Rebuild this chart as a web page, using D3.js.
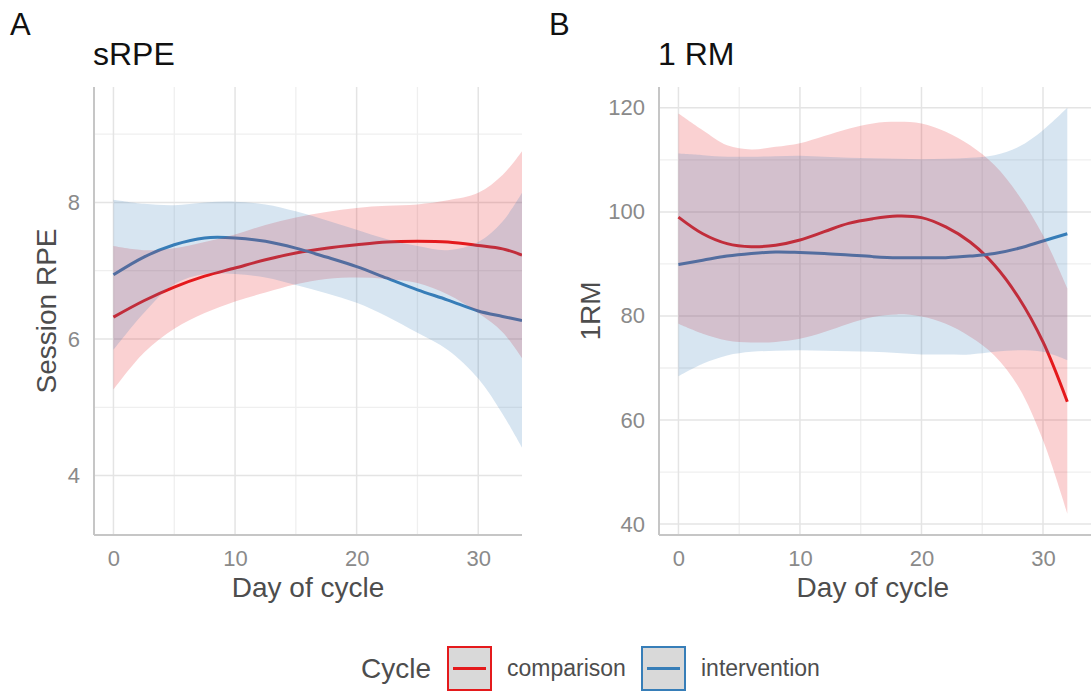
<!DOCTYPE html>
<html>
<head>
<meta charset="utf-8">
<script src="https://cdn.jsdelivr.net/npm/d3@7"></script>
<style>
  body { margin: 0; background: #fff; }
  svg text { font-family: "Liberation Sans", Arial, Helvetica, sans-serif; }
</style>
</head>
<body>
<svg id="fig" width="1091" height="696"></svg>
<script>
// ---- data ----
var groups = ["comparison", "intervention"]
var colors = ["#e41a1c", "#377eb8"]

// panel A: sRPE
var daysA = [0, 2.5, 5, 7.5, 10, 12.5, 15, 17.5, 20, 22.5, 25, 27.5, 30, 32, 33.6]
var compA = [6.32, 6.56, 6.76, 6.92, 7.04, 7.16, 7.26, 7.33, 7.38, 7.42, 7.43, 7.42, 7.37, 7.32, 7.23]
var compA_hi = [7.36, 7.30, 7.33, 7.42, 7.53, 7.67, 7.78, 7.86, 7.92, 7.95, 7.97, 8.03, 8.14, 8.40, 8.75]
var compA_lo = [5.26, 5.80, 6.15, 6.38, 6.55, 6.68, 6.80, 6.88, 6.90, 6.88, 6.82, 6.65, 6.38, 6.10, 5.72]
var intA = [6.94, 7.20, 7.38, 7.48, 7.48, 7.43, 7.33, 7.20, 7.06, 6.89, 6.72, 6.57, 6.41, 6.33, 6.27]
var intA_hi = [8.04, 7.98, 7.96, 8.00, 8.01, 7.97, 7.87, 7.74, 7.60, 7.46, 7.36, 7.30, 7.42, 7.72, 8.14]
var intA_lo = [5.84, 6.38, 6.80, 6.95, 6.95, 6.90, 6.79, 6.67, 6.53, 6.33, 6.09, 5.84, 5.42, 4.90, 4.41]

// panel B: 1 RM
var daysB = [0, 2, 4, 6, 8, 10, 12, 14, 16, 18, 20, 22, 24, 26, 28, 30, 32]
var compB = [99.0, 95.8, 93.9, 93.3, 93.6, 94.6, 96.2, 97.8, 98.7, 99.2, 98.9, 97.1, 94.2, 89.8, 83.5, 75.0, 63.5]
var compB_hi = [118.9, 115.7, 112.8, 112.0, 112.5, 113.2, 114.6, 116.0, 117.0, 117.3, 117.0, 115.4, 112.8, 109.0, 103.2, 95.5, 85.3]
var compB_lo = [78.5, 76.6, 75.3, 74.9, 75.0, 75.6, 76.9, 78.5, 79.8, 80.3, 79.9, 78.5, 76.0, 72.4, 66.3, 56.1, 42.0]
var intB = [89.9, 90.7, 91.5, 92.0, 92.3, 92.2, 92.0, 91.7, 91.4, 91.2, 91.2, 91.2, 91.5, 92.0, 93.0, 94.4, 95.8]
var intB_hi = [111.2, 110.9, 110.6, 110.6, 110.7, 110.8, 110.6, 110.4, 110.3, 110.2, 110.1, 110.2, 110.4, 110.9, 112.5, 115.7, 120.0]
var intB_lo = [68.4, 70.8, 72.4, 73.1, 73.3, 73.4, 73.3, 73.2, 73.1, 72.9, 72.6, 72.6, 72.6, 73.1, 73.4, 73.1, 71.5]

var xTicks = [0, 10, 20, 30]
var xMinor = [5, 15, 25]
var yTicksA = [4, 6, 8]
var yMinorA = [5, 7, 9]
var yTicksB = [40, 60, 80, 100, 120]
var yMinorB = [50, 70, 90, 110]

var svg = d3.select("#fig")

var zip = function(days, mid, hi, lo)
{
    return days.map(function(d, i) { return {x: d, y: mid[i], hi: hi[i], lo: lo[i]} })
}

var drawPanel = function(p)
{
    var xScale = d3.scaleLinear().domain(p.xDomain).range([p.left, p.right])
    var yScale = d3.scaleLinear().domain(p.yDomain).range([p.bottom, p.top])
    var g = svg.append("g")

    var clipId = "clip" + p.tag
    svg.append("clipPath").attr("id", clipId)
        .append("rect")
        .attr("x", p.left).attr("y", p.top)
        .attr("width", p.right - p.left).attr("height", p.bottom - p.top)

    // grid
    g.selectAll(".vminor").data(xMinor).enter().append("line")
        .attr("x1", xScale).attr("x2", xScale)
        .attr("y1", p.top).attr("y2", p.bottom)
        .attr("stroke", "#efefef").attr("stroke-width", 1.3)
    g.selectAll(".hminor").data(p.yMinor).enter().append("line")
        .attr("y1", yScale).attr("y2", yScale)
        .attr("x1", p.left).attr("x2", p.right)
        .attr("stroke", "#efefef").attr("stroke-width", 1.3)
    g.selectAll(".vmajor").data(xTicks).enter().append("line")
        .attr("x1", xScale).attr("x2", xScale)
        .attr("y1", p.top).attr("y2", p.bottom)
        .attr("stroke", "#e4e4e4").attr("stroke-width", 1.5)
    g.selectAll(".hmajor").data(p.yTicks).enter().append("line")
        .attr("y1", yScale).attr("y2", yScale)
        .attr("x1", p.left).attr("x2", p.right)
        .attr("stroke", "#e4e4e4").attr("stroke-width", 1.5)

    var plot = g.append("g").attr("clip-path", "url(#" + clipId + ")")

    var line = d3.line()
        .x(function(d) { return xScale(d.x) })
        .y(function(d) { return yScale(d.y) })
        .curve(d3.curveCatmullRom)
    var band = d3.area()
        .x(function(d) { return xScale(d.x) })
        .y0(function(d) { return yScale(d.lo) })
        .y1(function(d) { return yScale(d.hi) })
        .curve(d3.curveCatmullRom)

    // lines first, then translucent ribbons on top (as in the figure)
    p.series.forEach(function(s, i)
    {
        plot.append("path").datum(s)
            .attr("d", line)
            .attr("fill", "none")
            .attr("stroke", colors[i])
            .attr("stroke-width", 3)
    })
    p.series.forEach(function(s, i)
    {
        plot.append("path").datum(s)
            .attr("d", band)
            .attr("fill", colors[i])
            .attr("fill-opacity", 0.2)
    })

    // axes
    var xAxis = d3.axisBottom(xScale).tickValues(xTicks).tickSize(0).tickPadding(15)
        .tickFormat(d3.format("d"))
    var xg = g.append("g").attr("transform", "translate(0," + p.bottom + ")").call(xAxis)
    var yAxis = d3.axisLeft(yScale).tickValues(p.yTicks).tickSize(0).tickPadding(14)
        .tickFormat(d3.format("d"))
    var yg = g.append("g").attr("transform", "translate(" + p.left + ",0)").call(yAxis)
    ;[xg, yg].forEach(function(a)
    {
        a.select(".domain").remove()
        a.selectAll("text")
            .attr("fill", "#8a8a8a")
            .style("font-size", "22px")
    })
    g.append("line")
        .attr("x1", p.left).attr("x2", p.left)
        .attr("y1", p.top).attr("y2", p.bottom)
        .attr("stroke", "#c6c6c6").attr("stroke-width", 2)
    g.append("line")
        .attr("x1", p.left).attr("x2", p.right)
        .attr("y1", p.bottom).attr("y2", p.bottom)
        .attr("stroke", "#c6c6c6").attr("stroke-width", 2)

    // labels
    g.append("text").text(p.tag)
        .attr("x", p.tagX).attr("y", 35)
        .style("font-size", "31px").attr("fill", "#111")
    g.append("text").text(p.title)
        .attr("x", p.left - 1).attr("y", 65)
        .style("font-size", "32px").attr("fill", "#111")
    g.append("text").text("Day of cycle")
        .attr("text-anchor", "middle")
        .attr("x", (xScale(0) + xScale(32)) / 2)
        .attr("y", 597)
        .style("font-size", "28px").attr("fill", "#4d4d4d")
    g.append("text").text(p.yLabel)
        .attr("text-anchor", "middle")
        .attr("transform", "translate(" + p.yLabelX + "," + (p.top + p.bottom) / 2 + ") rotate(-90)")
        .style("font-size", "28px").attr("fill", "#4d4d4d")
}

drawPanel({
    tag: "A", tagX: 10, title: "sRPE", yLabel: "Session RPE", yLabelX: 56,
    left: 94, right: 522, top: 87, bottom: 535,
    xDomain: [-1.6, 33.6], yDomain: [3.13, 9.69],
    yTicks: yTicksA, yMinor: yMinorA,
    series: [zip(daysA, compA, compA_hi, compA_lo), zip(daysA, intA, intA_hi, intA_lo)]
})

drawPanel({
    tag: "B", tagX: 549, title: "1 RM", yLabel: "1RM", yLabelX: 600,
    left: 659, right: 1091, top: 87, bottom: 535,
    xDomain: [-1.6, 33.95], yDomain: [37.9, 124],
    yTicks: yTicksB, yMinor: yMinorB,
    series: [zip(daysB, compB, compB_hi, compB_lo), zip(daysB, intB, intB_hi, intB_lo)]
})

// legend
var legend = svg.append("g")
legend.append("text").text("Cycle")
    .attr("x", 361).attr("y", 678)
    .style("font-size", "28px").attr("fill", "#4d4d4d")
var keyX = [448, 642]
var labX = [507, 701]
groups.forEach(function(name, i)
{
    legend.append("rect")
        .attr("x", keyX[i]).attr("y", 647)
        .attr("width", 43).attr("height", 43)
        .attr("fill", "#d9d9d9")
        .attr("stroke", colors[i]).attr("stroke-width", 2)
    legend.append("line")
        .attr("x1", keyX[i] + 5).attr("x2", keyX[i] + 38)
        .attr("y1", 668.5).attr("y2", 668.5)
        .attr("stroke", colors[i]).attr("stroke-width", 3)
    legend.append("text").text(name)
        .attr("x", labX[i]).attr("y", 676)
        .style("font-size", "23px").attr("fill", "#4d4d4d")
})
</script>
</body>
</html>
